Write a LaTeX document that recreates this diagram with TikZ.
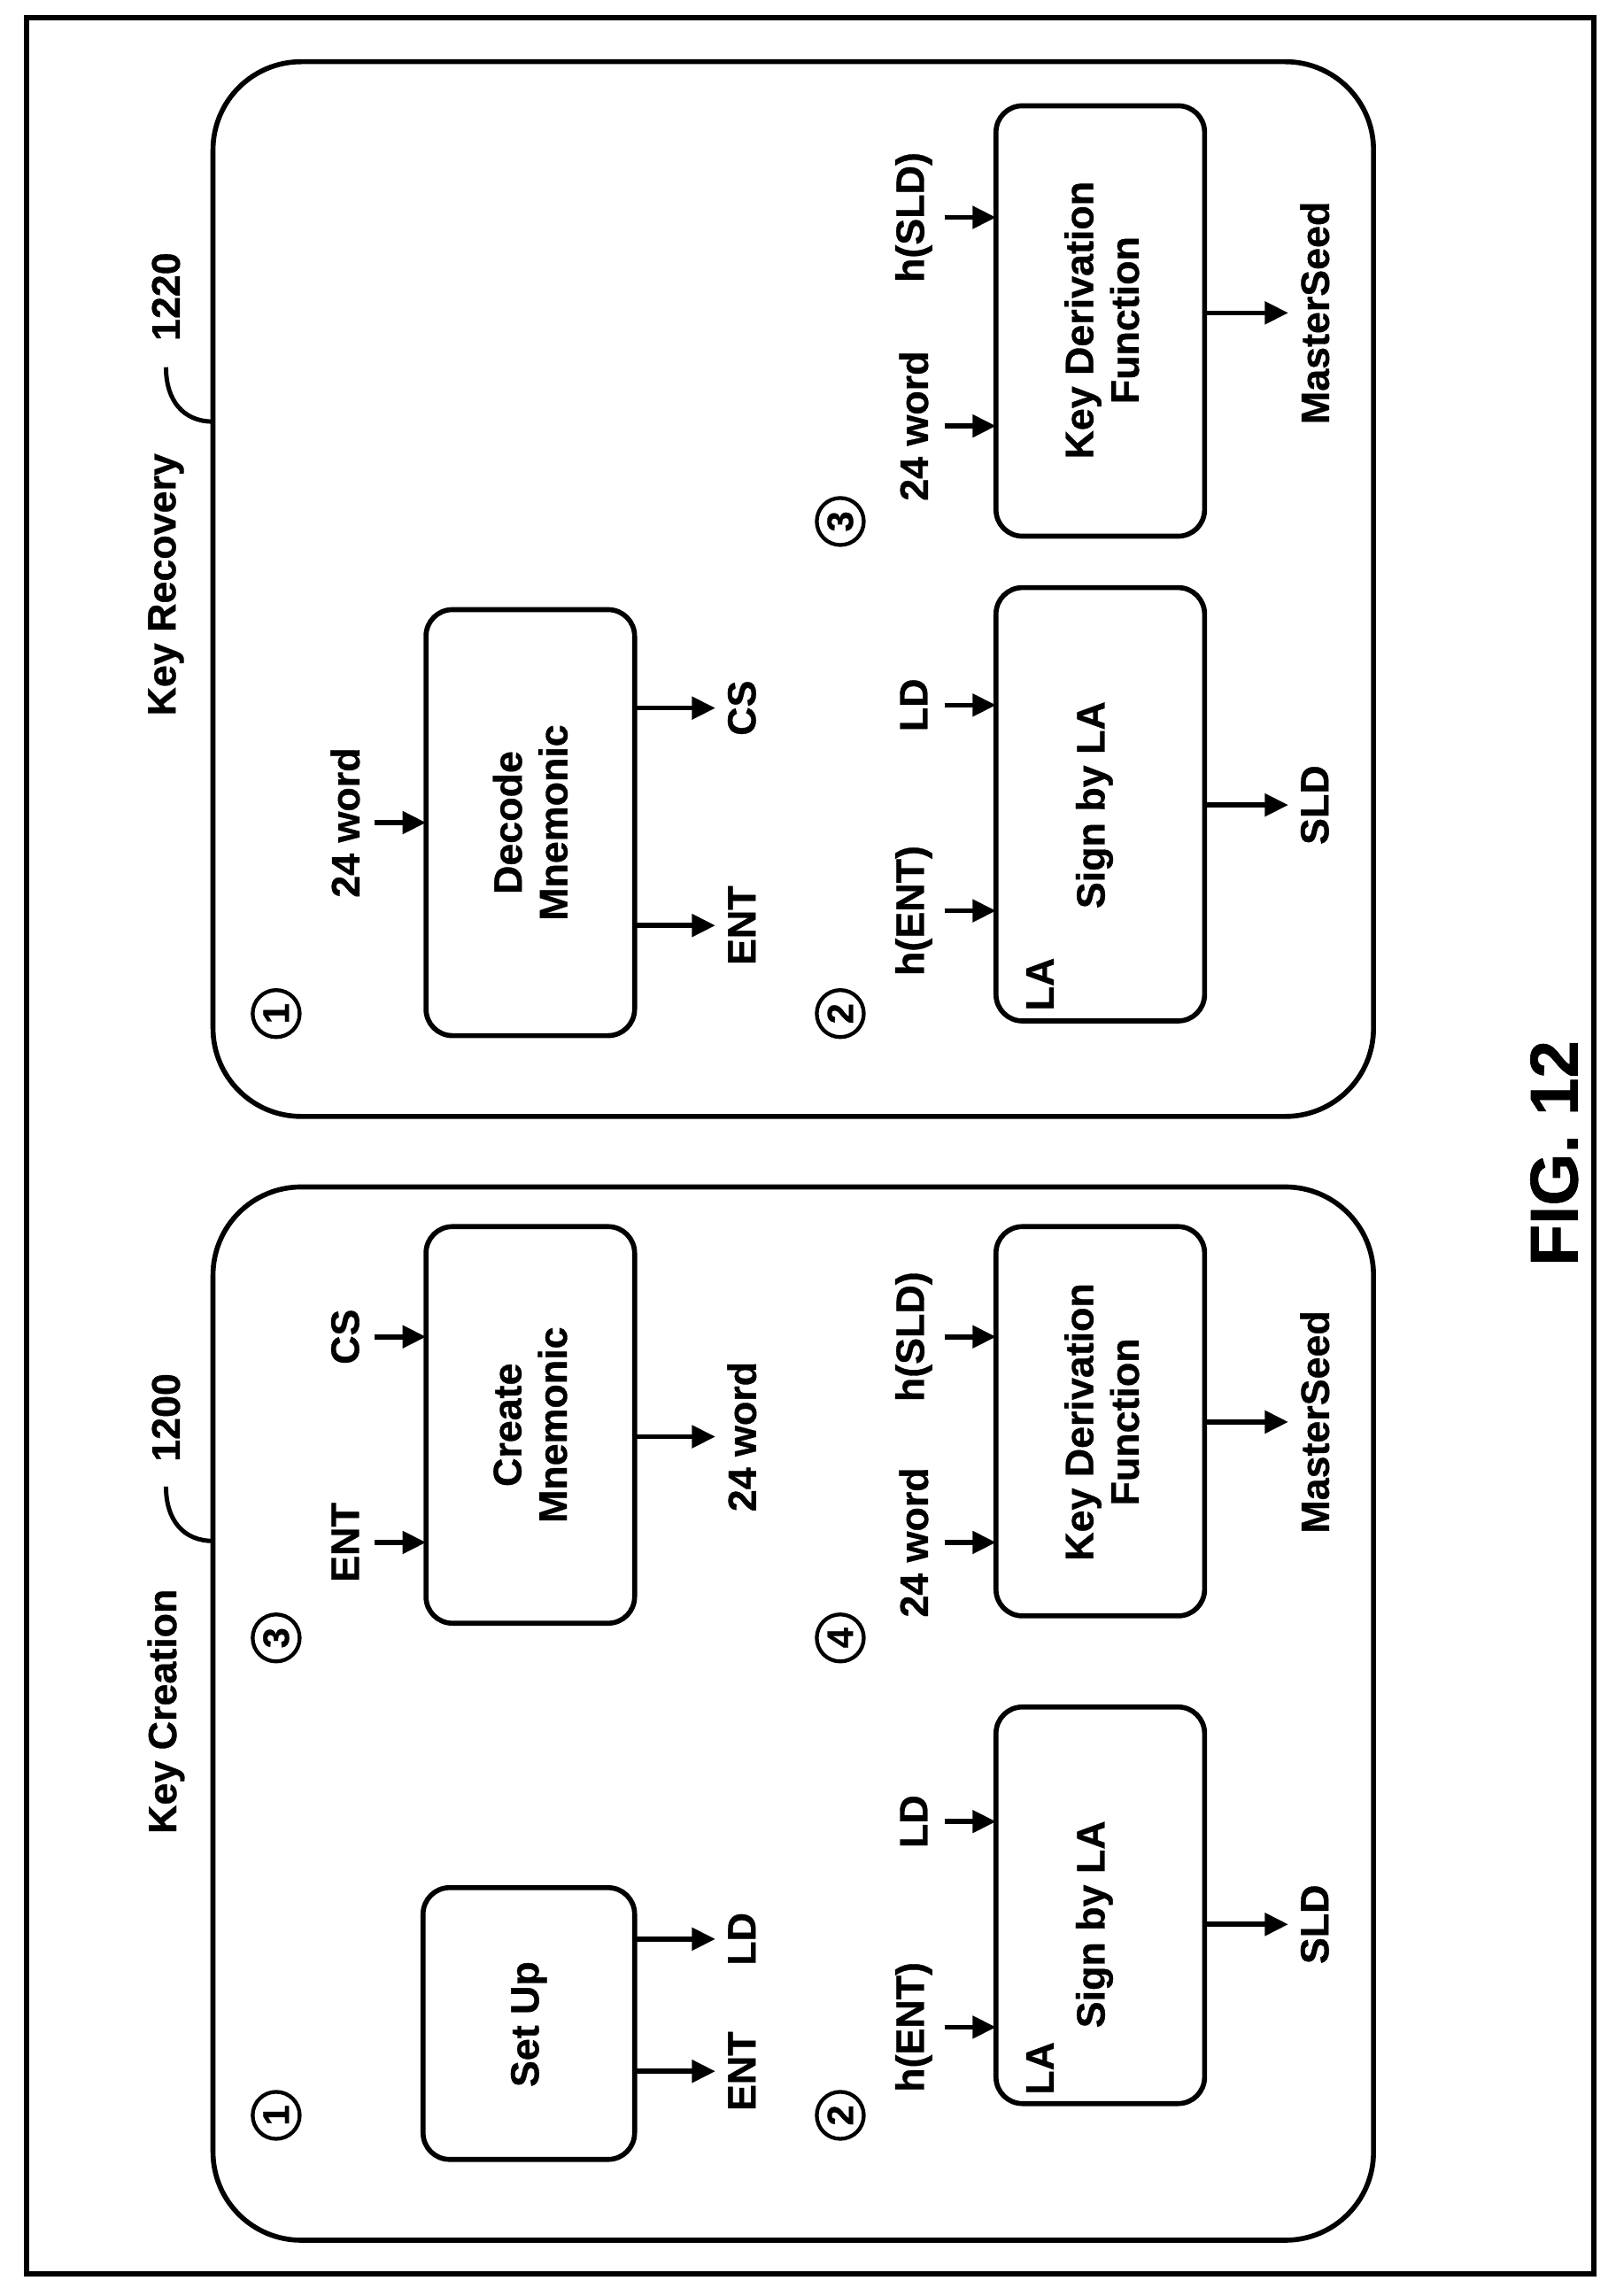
\documentclass[tikz,border=0pt]{standalone}
\usepackage{fontspec}
\setmainfont[FakeBold=0.8]{Liberation Sans}
\usetikzlibrary{arrows.meta}
\begin{document}
\bfseries
\begin{tikzpicture}[x=1pt,y=-1pt,
  every node/.style={rotate=90,font=\fontsize{27}{31}\selectfont\bfseries,inner sep=0pt},
  box/.style={draw,line width=3.4pt,rounded corners=18pt},
  panel/.style={draw,line width=3.4pt,rounded corners=60pt},
  arr/.style={line width=3.4pt,-{Triangle[length=16pt,width=15pt]}},
  num/.style={draw,circle,line width=2.6pt,minimum size=32pt,font=\fontsize{25}{27}\selectfont\bfseries}]
\useasboundingbox (0,0) rectangle (1100,1563);
\draw[line width=4pt] (18,12) rectangle (1085,1548);
% panels
\draw[panel] (145,808) rectangle (935,1525);
\draw[panel] (145,42) rectangle (935,760);
\node (kc) at (113,1165) {Key Creation};
\node (kr) at (113,398) {Key Recovery};
\node (n1200) at (113,965) {1200};
\node (n1220) at (113,202) {1220};
\coordinate (l1a) at (113,1012); \coordinate (l1b) at (145,1049);
\draw[line width=3pt] (l1a) .. controls (113,1035) and (125,1049) .. (l1b);
\coordinate (l2a) at (113,250); \coordinate (l2b) at (145,287);
\draw[line width=3pt] (l2a) .. controls (113,273) and (125,287) .. (l2b);
% circled numbers
\node[num] (c1) at (188,1440) {1};
\node[num] (c2) at (572,1440) {2};
\node[num] (c3) at (188,1115) {3};
\node[num] (c4) at (572,1115) {4};
\node[num] (r1) at (188,690) {1};
\node[num] (r2) at (572,690) {2};
\node[num] (r3) at (572,355) {3};
% ---- Key Creation
\draw[box] (288,1285) rectangle (432,1470);
\node (su) at (360,1378) {Set Up};
\node (su1) at (505,1410) {ENT}; \node (su2) at (505,1320) {LD};
\draw[arr] (432,1410) -- (487,1410);
\draw[arr] (432,1320) -- (487,1320);

\draw[box] (290,835) rectangle (432,1105);
\node[align=center] (cm) at (361,970) {Create\\Mnemonic};
\node (cmi1) at (235,1050) {ENT}; \node (cmi2) at (235,910) {CS};
\node (cmo) at (505,978) {24 word};
\draw[arr] (255,1050) -- (290,1050);
\draw[arr] (255,910) -- (290,910);
\draw[arr] (432,978) -- (487,978);

\draw[box] (678,1162) rectangle (820,1432);
\node (sla) at (745,1310) {Sign by LA};
\node (la1) at (708,1408) {LA};
\node (si1) at (622,1380) {h(ENT)}; \node (si2) at (622,1240) {LD};
\node (so) at (895,1310) {SLD};
\draw[arr] (643,1380) -- (678,1380);
\draw[arr] (643,1240) -- (678,1240);
\draw[arr] (820,1310) -- (877,1310);

\draw[box] (678,835) rectangle (820,1100);
\node[align=center] (kd) at (750,968) {Key Derivation\\Function};
\node (ki1) at (622,1050) {24 word}; \node (ki2) at (622,910) {h(SLD)};
\node (ko) at (895,968) {MasterSeed};
\draw[arr] (643,1050) -- (678,1050);
\draw[arr] (643,910) -- (678,910);
\draw[arr] (820,968) -- (877,968);
% ---- Key Recovery
\draw[box] (290,415) rectangle (432,705);
\node[align=center] (dm) at (361,560) {Decode\\Mnemonic};
\node (di) at (235,560) {24 word};
\node (do1) at (505,630) {ENT}; \node (do2) at (505,482) {CS};
\draw[arr] (255,560) -- (290,560);
\draw[arr] (432,630) -- (487,630);
\draw[arr] (432,482) -- (487,482);

\draw[box] (678,400) rectangle (820,695);
\node (sla2) at (745,548) {Sign by LA};
\node (la2) at (708,670) {LA};
\node (ri1) at (622,620) {h(ENT)}; \node (ri2) at (622,480) {LD};
\node (ro) at (895,548) {SLD};
\draw[arr] (643,620) -- (678,620);
\draw[arr] (643,480) -- (678,480);
\draw[arr] (820,548) -- (877,548);

\draw[box] (678,72) rectangle (820,365);
\node[align=center] (kd2) at (750,218) {Key Derivation\\Function};
\node (rk1) at (622,290) {24 word}; \node (rk2) at (622,148) {h(SLD)};
\node (rko) at (895,213) {MasterSeed};
\draw[arr] (643,290) -- (678,290);
\draw[arr] (643,148) -- (678,148);
\draw[arr] (820,213) -- (877,213);

\node[font=\fontsize{46}{50}\selectfont\bfseries] (fig) at (1058,785) {FIG. 12};
\end{tikzpicture}
\end{document}
